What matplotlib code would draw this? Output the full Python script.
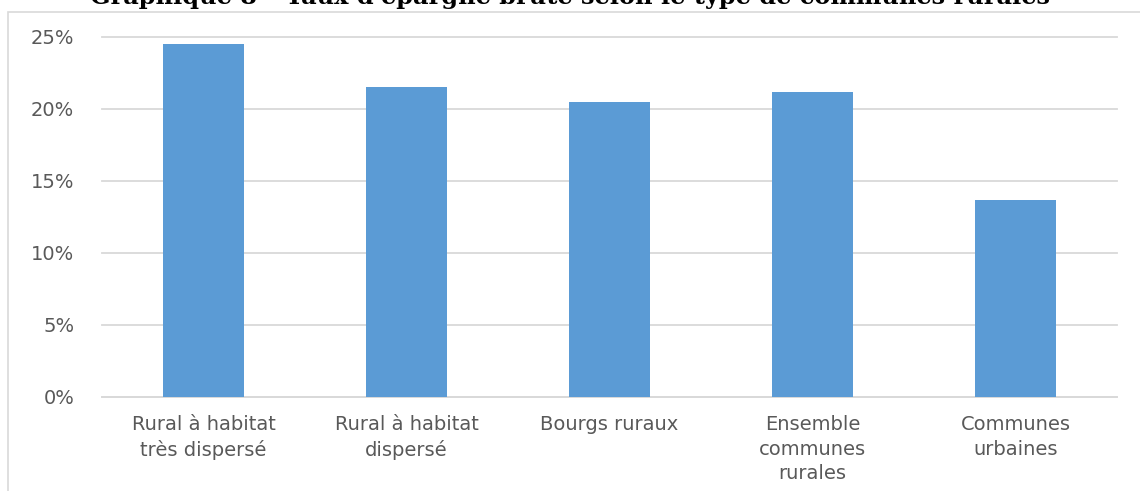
import matplotlib.pyplot as plt
from matplotlib.patches import Rectangle
from matplotlib.ticker import PercentFormatter

# data
categories = ["Rural à habitat\ntrès dispersé", "Rural à habitat\ndispersé", "Bourgs ruraux",
              "Ensemble\ncommunes\nrurales", "Communes\nurbaines"]
taux_epargne = [0.245, 0.215, 0.205, 0.212, 0.137]
y_ticks = [0, 0.05, 0.10, 0.15, 0.20, 0.25]

bar_color = "#5b9bd5"
text_color = "#595959"
grid_color = "#d9d9d9"

fig = plt.figure(figsize=(11.4, 4.91), dpi=100)

# chart frame (only top and left edges visible in the crop)
fig.patches.append(Rectangle((8 / 1140, -0.1), 1.2, 1.1 - 12 / 491, transform=fig.transFigure,
                             fill=False, edgecolor=grid_color, lw=1.2))

# title, cut off at the top of the picture as in the source
fig.text(0.5, 1 - 4 / 491, "Graphique 8 – Taux d'épargne brute selon le type de communes rurales",
         ha="center", va="baseline", fontsize=17.3, fontweight="bold", family="DejaVu Serif")

ax = fig.add_axes([102 / 1140, 1 - 397 / 491, (1117 - 102) / 1140, (397 - 37) / 491])
x = range(len(categories))
ax.bar(x, taux_epargne, width=0.4, color=bar_color, zorder=3)

ax.set_xlim(-0.5, len(categories) - 0.5)
ax.set_ylim(0, 0.25)
ax.set_yticks(y_ticks)
ax.yaxis.set_major_formatter(PercentFormatter(1.0, decimals=0))
ax.set_xticks(list(x))
ax.set_xticklabels(categories, linespacing=1.37)
ax.tick_params(axis="y", length=0, pad=20, labelsize=14, labelcolor=text_color)
ax.tick_params(axis="x", length=0, pad=13, labelsize=14, labelcolor=text_color)
ax.grid(axis="y", color=grid_color, lw=1.3, zorder=0)
for gl in ax.get_ygridlines():
    gl.set_clip_on(False)

for side in ["top", "right", "left"]:
    ax.spines[side].set_visible(False)
ax.spines["bottom"].set_color(grid_color)
ax.spines["bottom"].set_linewidth(1.3)

fig.savefig("out.png", dpi=100)
